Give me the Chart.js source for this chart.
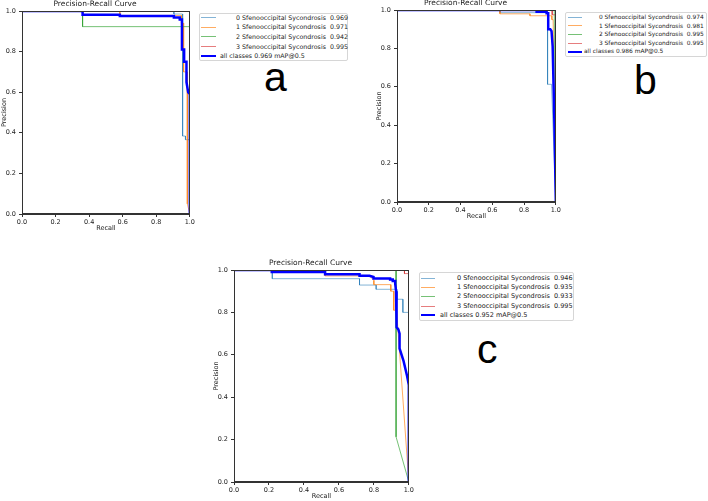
<!DOCTYPE html>
<html lang="en">
<head>
<meta charset="UTF-8">
<title>Precision-Recall Curves</title>
<script src="https://cdn.jsdelivr.net/npm/chart.js@4.4.0/dist/chart.umd.min.js"></script>
<style>
    body { margin: 0; }
    #page { position: relative; width: 708px; height: 501px; overflow: hidden; background: #fff; font-family: "DejaVu Sans", sans-serif; }
    canvas { position: absolute; }
    .legend { position: absolute; border: 1px solid #d6d6d6; border-radius: 2px; background: #fff; box-sizing: border-box; color: #222; }
    .legend span { position: absolute; white-space: pre; }
    .letter { position: absolute; font-family: "Liberation Sans", Arial, sans-serif; font-size: 41px; line-height: 41px; color: #000; }
</style>
</head>
<body>
<div id="page">
    <canvas id="chartA" width="196" height="232" style="left:0px;top:0px"></canvas>
    <canvas id="chartB" width="187" height="221" style="left:375px;top:-1px"></canvas>
    <canvas id="chartC" width="203" height="241" style="left:212px;top:259px"></canvas>
    <div id="legendA" class="legend"></div>
    <div id="legendB" class="legend"></div>
    <div id="legendC" class="legend"></div>
    <div class="letter" style="left:264px;top:57px">a</div>
    <div class="letter" style="left:634px;top:60px">b</div>
    <div class="letter" style="left:477px;top:329px">c</div>
</div>
<script>
    const classNames = ['0 Sfenooccipital Sycondrosis', '1 Sfenooccipital Sycondrosis',
        '2 Sfenooccipital Sycondrosis', '3 Sfenooccipital Sycondrosis'];

    // panel a -- points are [recall, precision]
    const prA0 = [[0, 1], [0.905, 1], [0.905, 0.985], [0.957, 0.985], [0.957, 0.384], [0.974, 0.384], [0.974, 0.366], [1, 0.366], [1, 0]];
    const prA1 = [[0, 1], [0.583, 1], [0.583, 0.978], [0.95, 0.978], [0.95, 0.94], [0.963, 0.94], [0.963, 0.70], [0.985, 0.70], [0.985, 0.05], [1, 0]];
    const prA2 = [[0, 1], [0.361, 1], [0.361, 0.923], [1, 0.923], [1, 0]];
    const prA3 = [[0, 1], [1, 1], [1, 0]];
    const prAall = [[0, 1], [0.361, 1], [0.361, 0.982], [0.583, 0.982], [0.583, 0.975], [0.905, 0.975], [0.905, 0.968],
        [0.94, 0.968], [0.94, 0.958], [0.953, 0.958], [0.953, 0.81], [0.966, 0.81], [0.966, 0.75], [0.98, 0.75],
        [0.98, 0.65], [0.99, 0.60], [1, 0.59], [1, 0]];
    const apA = [0.969, 0.971, 0.942, 0.995];
    const mapA = 0.969;

    // panel b
    const prB0 = [[0, 1], [0.648, 1], [0.648, 0.986], [0.948, 0.986], [0.948, 0.613], [0.973, 0.613], [1, 0]];
    const prB1 = [[0, 1], [0.648, 1], [0.648, 0.98], [0.837, 0.98], [0.837, 0.97], [0.975, 0.97], [0.975, 0.95], [0.983, 0.95], [1, 0]];
    const prB2 = [[0, 1], [0.99, 1], [1, 0]];
    const prB3 = [[0, 1], [0.977, 1], [0.977, 0.975], [1, 0.975], [1, 0]];
    const prBall = [[0, 1], [0.879, 1], [0.879, 0.991], [0.942, 0.991], [0.942, 0.983], [0.952, 0.983], [0.952, 0.90],
        [0.965, 0.90], [0.973, 0.89], [0.98, 0.81], [0.99, 0.45], [1, 0]];
    const apB = [0.974, 0.981, 0.995, 0.995];
    const mapB = 0.986;

    // panel c
    const prC0 = [[0, 1], [0.219, 1], [0.219, 0.959], [0.718, 0.959], [0.718, 0.929], [0.813, 0.929], [0.813, 0.909],
        [0.931, 0.909], [0.931, 0.862], [0.966, 0.862], [0.966, 0.80], [1, 0.80], [1, 0]];
    const prC1 = [[0, 1], [0.521, 1], [0.521, 0.972], [0.775, 0.972], [0.80, 0.951], [0.80, 0.931], [0.897, 0.931],
        [0.897, 0.90], [0.914, 0.90], [0.914, 0.81], [0.93, 0.81], [1, 0]];
    const prC2 = [[0, 1], [0.927, 1], [0.927, 0.213], [1, 0]];
    const prC3 = [[0, 1], [0.975, 1], [0.975, 0.983], [1, 0.983], [1, 0]];
    const prCall = [[0, 1], [0.216, 1], [0.216, 0.99], [0.521, 0.99], [0.521, 0.98], [0.718, 0.98], [0.718, 0.973],
        [0.775, 0.973], [0.798, 0.967], [0.798, 0.96], [0.893, 0.96], [0.893, 0.955], [0.908, 0.955], [0.908, 0.948],
        [0.922, 0.948], [0.922, 0.936], [0.927, 0.90], [0.93, 0.73], [0.94, 0.72], [0.947, 0.70], [0.947, 0.63],
        [0.97, 0.57], [0.99, 0.50], [1, 0.457], [1, 0]];
    const apC = [0.946, 0.935, 0.933, 0.995];
    const mapC = 0.952;

    const classColors = ['rgba(31,119,180,0.55)', 'rgba(255,127,14,0.65)', 'rgba(44,160,44,0.65)', 'rgba(214,39,40,0.6)'];
    const textColor = '#222';
    const axisColor = '#333';
    const fontFamily = '"DejaVu Sans", sans-serif';

    // matplotlib style box round the plot
    const framePlugin = {
        id: 'frame',
        afterDatasetsDraw(chart) {
            const a = chart.chartArea;
            const ctx = chart.ctx;
            ctx.save();
            ctx.strokeStyle = axisColor;
            ctx.lineWidth = 1;
            ctx.strokeRect(Math.round(a.left) + 0.5, Math.round(a.top) + 0.5,
                Math.round(a.right - a.left) - 1, Math.round(a.bottom - a.top) - 1);
            ctx.restore();
        }
    };

    function toPoints(pr) {
        return pr.map(p => ({ x: p[0], y: p[1] }));
    }

    function drawPanel(canvasId, classCurves, allCurve) {
        const datasets = [{
            label: 'all classes',
            data: toPoints(allCurve),
            borderColor: '#0000ff',
            borderWidth: 2.5,
            order: 0
        }];
        classCurves.forEach((c, i) => {
            datasets.push({
                label: classNames[i],
                data: toPoints(c),
                borderColor: classColors[i],
                borderWidth: 1,
                order: 4 - i
            });
        });
        datasets.forEach(d => { d.showLine = true; d.pointRadius = 0; d.tension = 0; d.fill = false; });

        const tickFont = { family: fontFamily, size: 6.5 };
        new Chart(document.getElementById(canvasId), {
            type: 'scatter',
            data: { datasets: datasets },
            options: {
                responsive: false,
                animation: false,
                devicePixelRatio: 1,
                layout: { padding: { top: 0, right: 6, bottom: 0, left: 0 } },
                scales: {
                    x: {
                        type: 'linear', min: 0, max: 1,
                        ticks: { stepSize: 0.2, callback: v => v.toFixed(1), font: tickFont, color: textColor, padding: 1, maxRotation: 0, autoSkip: false },
                        grid: { drawOnChartArea: false, drawTicks: true, tickLength: 3, color: axisColor },
                        border: { color: axisColor },
                        title: { display: true, text: 'Recall', font: tickFont, color: textColor, padding: 0 },
                        afterFit: s => { s.height = 18; }
                    },
                    y: {
                        type: 'linear', min: 0, max: 1,
                        ticks: { stepSize: 0.2, callback: v => v.toFixed(1), font: tickFont, color: textColor, padding: 3, autoSkip: false },
                        grid: { drawOnChartArea: false, drawTicks: true, tickLength: 3, color: axisColor },
                        border: { color: axisColor },
                        title: { display: true, text: 'Precision', font: tickFont, color: textColor, padding: 0 },
                        afterFit: s => { s.width = 22; }
                    }
                },
                plugins: {
                    legend: { display: false },
                    tooltip: { enabled: false },
                    title: {
                        display: true,
                        text: 'Precision-Recall Curve',
                        font: { family: fontFamily, size: 7.5, weight: 'normal' },
                        color: textColor,
                        padding: { top: 0, bottom: 2 }
                    }
                }
            },
            plugins: [framePlugin]
        });
    }

    // legend drawn in the matplotlib way: line sample, then label
    function buildLegend(id, box, ap, mAP) {
        const el = document.getElementById(id);
        el.style.left = box.left + 'px';
        el.style.top = box.top + 'px';
        el.style.width = box.width + 'px';
        el.style.height = box.height + 'px';
        el.style.fontSize = box.font + 'px';
        const rows = classNames.map((n, i) => ({ text: n + '  ' + ap[i].toFixed(3), color: classColors[i], w: 1, x: box.classX }));
        rows.push({ text: 'all classes ' + mAP.toFixed(3) + ' mAP@0.5', color: '#0000ff', w: 2, x: box.allX });
        rows.forEach((r, i) => {
            const cy = box.firstRow + i * box.rowH;
            const line = document.createElement('span');
            line.style.left = box.lineX + 'px';
            line.style.top = (cy - r.w / 2) + 'px';
            line.style.width = box.lineW + 'px';
            line.style.height = r.w + 'px';
            line.style.background = r.color;
            el.appendChild(line);
            const lbl = document.createElement('span');
            lbl.textContent = r.text;
            lbl.style.left = r.x + 'px';
            lbl.style.top = (cy - box.rowH / 2) + 'px';
            lbl.style.lineHeight = box.rowH + 'px';
            el.appendChild(lbl);
        });
    }

    drawPanel('chartA', [prA0, prA1, prA2, prA3], prAall);
    drawPanel('chartB', [prB0, prB1, prB2, prB3], prBall);
    drawPanel('chartC', [prC0, prC1, prC2, prC3], prCall);

    buildLegend('legendA', { left: 199, top: 13, width: 149, height: 48, font: 6.3, rowH: 9.6, firstRow: 3.5, lineX: 1, lineW: 15, allX: 20, classX: 36 }, apA, mapA);
    buildLegend('legendB', { left: 565, top: 12, width: 142, height: 45, font: 5.9, rowH: 8.6, firstRow: 4.2, lineX: 2, lineW: 14, allX: 18, classX: 33 }, apB, mapB);
    buildLegend('legendC', { left: 419, top: 272, width: 155, height: 49, font: 6.5, rowH: 9.2, firstRow: 5.5, lineX: 1, lineW: 14, allX: 20, classX: 37 }, apC, mapC);
</script>
</body>
</html>
